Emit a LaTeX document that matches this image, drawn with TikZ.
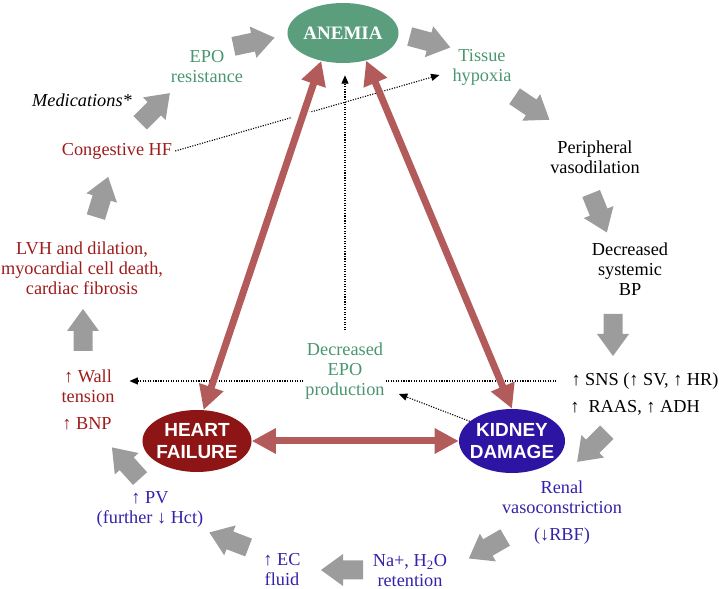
\documentclass[tikz,border=0pt]{standalone}
\usepackage{fontspec}
\setmainfont{Liberation Serif}
\setsansfont{Liberation Sans}
\usetikzlibrary{shapes.geometric, arrows.meta, calc, backgrounds}

\definecolor{anemiagreen}{HTML}{5B9E7D}
\definecolor{textgreen}{HTML}{4A9670}
\definecolor{textred}{HTML}{9E1C1C}
\definecolor{hfred}{HTML}{8E1515}
\definecolor{textblue}{HTML}{3322AA}
\definecolor{kdblue}{HTML}{2E14A3}
\definecolor{linkred}{HTML}{B35B5B}
\definecolor{arrowgray}{HTML}{9C9C9C}

\tikzset{
	txt/.style={align=center, inner sep=2pt, font=\fontsize{13}{14.2}\selectfont},
	greentxt/.style={txt, text=textgreen},
	redtxt/.style={txt, text=textred},
	bluetxt/.style={txt, text=textblue},
	blacktxt/.style={txt, text=black},
	blob/.style={ellipse, inner sep=0pt},
	blobtext/.style={align=center, inner sep=0pt, text=white, font=\sffamily\bfseries\fontsize{13.5}{15.6}\selectfont},
	link/.style={linkred, line width=0.175cm, {Triangle[length=0.6cm,width=0.6cm]}-{Triangle[length=0.6cm,width=0.6cm]}},
	halo/.style={white, line width=0.5cm, shorten <=1.3cm, shorten >=1.3cm},
	dotlink/.style={densely dotted, line width=0.8pt, -{Triangle[length=6pt,width=5pt]}},
	bigarrow/.pic={\fill[arrowgray] (-21,-9.5) -- (-1,-9.5) -- (-1,-16) -- (21,0) -- (-1,16) -- (-1,9.5) -- (-21,9.5) -- cycle;}
}

\begin{document}
\begin{tikzpicture}[x=0.025cm, y=0.025cm]
	\useasboundingbox (0,0) rectangle (719,-589);
	
	\node[blob, fill=anemiagreen, minimum width=2.775cm, minimum height=1.5cm] (anemia) at (343,-33) {};
	\node[blobtext, font=\rmfamily\bfseries\fontsize{13.5}{15.6}\selectfont] (anemiatext) at (anemia) {ANEMIA};
	\node[blob, fill=hfred, minimum width=2.725cm, minimum height=1.55cm] (hf) at (197,-441) {};
	\node[blobtext] (hftext) at (hf) {HEART\\FAILURE};
	\node[blob, fill=kdblue, minimum width=2.65cm, minimum height=1.6cm] (kd) at (512,-441) {};
	\node[blobtext] (kdtext) at (kd) {KIDNEY\\DAMAGE};
	
	\node[greentxt] (eporesist) at (207,-67) {EPO\\resistance};
	\node[greentxt] (tissue) at (482,-67) {Tissue\\hypoxia};
	\node[blacktxt] (periph) at (595,-157) {Peripheral\\vasodilation};
	\node[blacktxt] (decbp) at (630,-269) {Decreased\\systemic\\BP};
	\node[blacktxt] (sns) at (645,-381) {↑ SNS (↑ SV, ↑ HR)};
	\node[blacktxt] (raas) at (635,-408) {↑\ \ RAAS, ↑ ADH};
	\node[bluetxt] (renal) at (562,-497) {Renal\\vasoconstriction};
	\node[bluetxt] (rbf) at (562,-536) {(↓RBF)};
	\node[bluetxt] (naret) at (410,-571) {Na+, H\textsubscript{2}O\\retention};
	\node[bluetxt] (ecfluid) at (282,-570) {↑ EC\\fluid};
	\node[bluetxt] (pv) at (150,-509) {↑ PV\\(further ↓ Hct)};
	\node[redtxt] (bnp) at (87,-424) {↑ BNP};
	\node[redtxt] (wall) at (88,-386) {↑ Wall\\tension};
	\node[redtxt] (lvh) at (82,-268) {LVH and dilation,\\myocardial cell death,\\cardiac fibrosis};
	\node[redtxt] (chf) at (117,-151) {Congestive HF};
	\node[blacktxt, font=\itshape\fontsize{13}{14.2}\selectfont] (meds) at (82,-100) {Medications*};
	\node[greentxt, fill=white, inner sep=0pt] (decepo) at (345,-371) {Decreased\\EPO\\production};
	
	\pic[rotate=12] at (254,-42) {bigarrow};
	\pic[rotate=-15] at (430,-42) {bigarrow};
	\pic[rotate=-34] at (532,-108) {bigarrow};
	\pic[rotate=-68] at (599,-213) {bigarrow};
	\pic[rotate=-90] at (613,-335) {bigarrow};
	\pic[rotate=-135] at (592,-447) {bigarrow};
	\pic[rotate=210] at (487,-548) {bigarrow};
	\pic[rotate=180] at (342,-570) {bigarrow};
	\pic[rotate=159] at (229,-540) {bigarrow};
	\pic[rotate=132] at (126,-463) {bigarrow};
	\pic[rotate=90] at (83,-330) {bigarrow};
	\pic[rotate=73] at (102,-197) {bigarrow};
	\pic[rotate=45] at (155,-108) {bigarrow};
	
	\begin{pgfonlayer}{background}
		\draw[dotlink] (chf.east) -- ($(tissue.west)+(-10,-8)$);
		\draw[dotlink, shorten <=0.3cm, shorten >=0.3cm] (decepo.north) -- (decepo.north |- anemia.south);
		\draw[dotlink, shorten <=0.3cm] (sns.west) -- ($(sns.west -| wall.east)+(12,0)$);
		\draw[dotlink] (kd.155) -- ($(decepo.east)+(14,-23)$);
	\end{pgfonlayer}
	
	\draw[halo] (hf.78) -- (anemia.232);
	\draw[halo] (kd.north) -- (anemia.310);
	\draw[link] (hf.78) -- (anemia.232);
	\draw[link] (kd.north) -- (anemia.310);
	\draw[link] (hf.east) -- (kd.west);
\end{tikzpicture}
\end{document}
